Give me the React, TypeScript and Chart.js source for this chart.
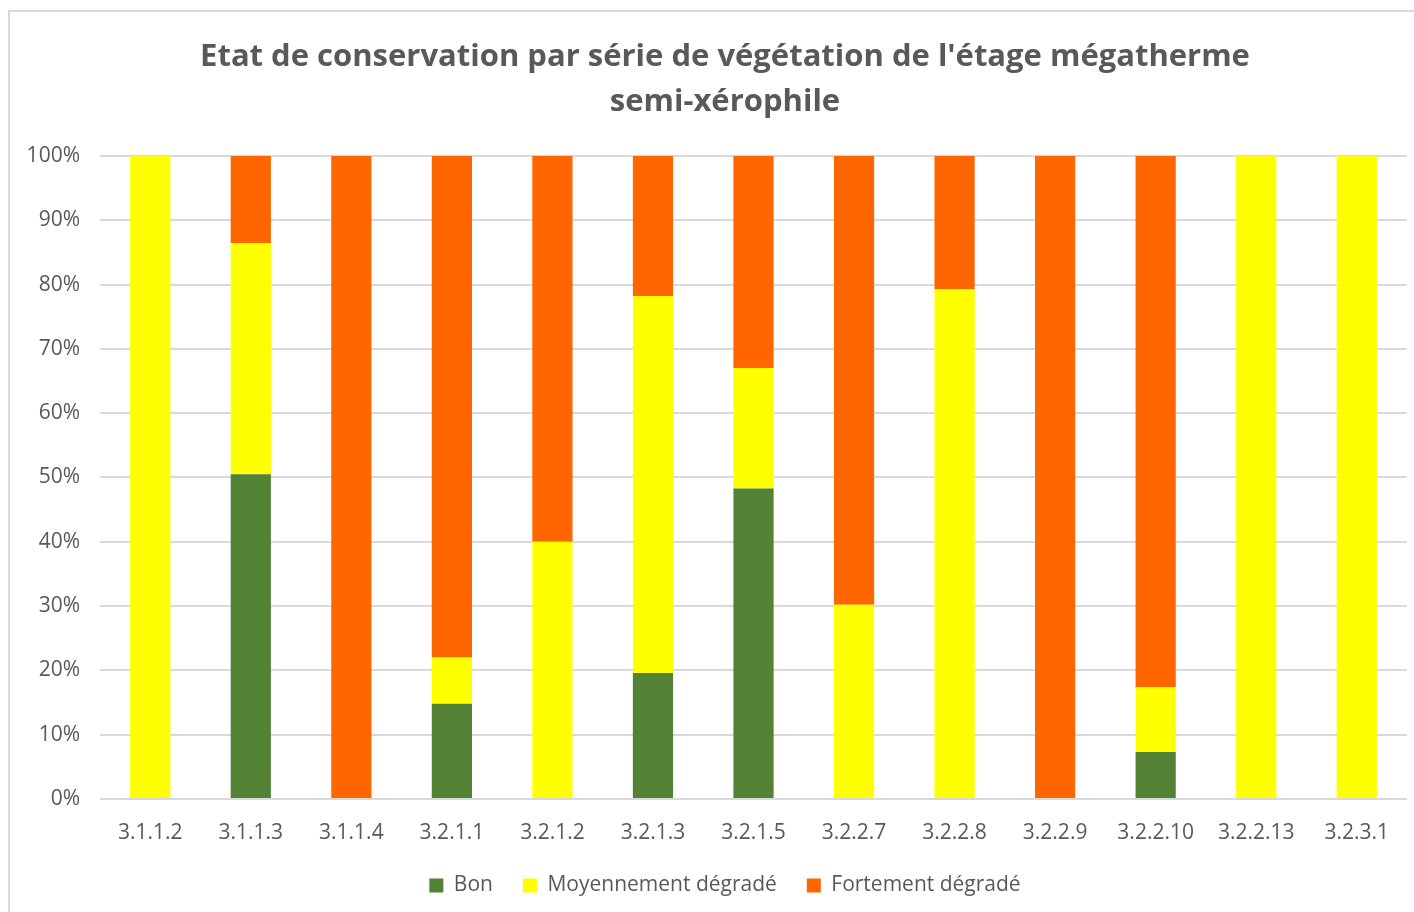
import React, { useEffect, useRef } from "react";
import { Chart, registerables } from "chart.js";

Chart.register(...registerables);

const categories = ["3.1.1.2", "3.1.1.3", "3.1.1.4", "3.2.1.1", "3.2.1.2", "3.2.1.3", "3.2.1.5", "3.2.2.7", "3.2.2.8", "3.2.2.9", "3.2.2.10", "3.2.2.13", "3.2.3.1"];
const bon = [0, 50.5, 0, 14.8, 0, 19.6, 48.3, 0, 0, 0, 7.3, 0, 0];
const moyen = [100, 35.9, 0, 7.2, 40.0, 58.6, 18.7, 30.2, 79.3, 0, 10.1, 100, 100];
const fort = [0, 13.6, 100, 78.0, 60.0, 21.8, 33.0, 69.8, 20.7, 100, 82.6, 0, 0];
const titleLines = ["Etat de conservation par série de végétation de l'étage mégatherme", "semi-xérophile"];
const seriesNames = ["Bon", "Moyennement dégradé", "Fortement dégradé"];

const FONT = "'Open Sans', 'Noto Sans', sans-serif";
const TEXT = "#595959";

export default function App() {
  const ref = useRef<HTMLCanvasElement | null>(null);
  useEffect(() => {
    if (!ref.current) return;
    const chart = new Chart(ref.current, {
      type: "bar",
      data: {
        labels: categories,
        datasets: [
          { label: seriesNames[0], data: bon, backgroundColor: "#548235" },
          { label: seriesNames[1], data: moyen, backgroundColor: "#FFFF00" },
          { label: seriesNames[2], data: fort, backgroundColor: "#FF6600" },
        ],
      },
      options: {
        responsive: false,
        animation: false,
        layout: { padding: { left: 43, right: 7, top: 0, bottom: 8 } },
        datasets: { bar: { barPercentage: 0.4, categoryPercentage: 1 } },
        plugins: {
          title: {
            display: true,
            text: titleLines,
            color: TEXT,
            font: { family: FONT, size: 31, weight: "bold", lineHeight: 1.45 },
            padding: { top: 35, bottom: 31 },
          },
          legend: {
            position: "bottom",
            labels: {
              color: TEXT,
              font: { family: FONT, size: 21 },
              boxWidth: 14,
              boxHeight: 14,
              padding: 30,
            },
          },
          tooltip: { enabled: false },
        },
        scales: {
          x: {
            stacked: true,
            grid: { display: false, drawTicks: false },
            border: { display: false },
            afterFit: (s: any) => {
              s.height = 46;
              s._computeLabelArea = () => undefined;
            },
            ticks: { color: TEXT, font: { family: FONT, size: 21 }, padding: 21, maxRotation: 0, autoSkip: false },
          },
          y: {
            stacked: true,
            min: 0,
            max: 100,
            grid: { color: "#d9d9d9", lineWidth: 2, drawTicks: false },
            border: { display: false },
            afterFit: (s: any) => {
              s.width = 57;
              s._computeLabelArea = () => undefined;
            },
            ticks: {
              stepSize: 10,
              color: TEXT,
              padding: 20,
              font: { family: FONT, size: 21 },
              callback: (v: any) => v + "%",
            },
          },
        },
      },
    });
    return () => chart.destroy();
  }, []);
  return (
    <div style={{ position: "fixed", left: 0, top: 0, width: 1414, height: 912, overflow: "hidden", background: "#fff" }}>
      <div style={{ position: "absolute", left: 8, top: 10, width: 1430, height: 930, border: "2px solid #d9d9d9" }} />
      <canvas ref={ref} width={1414} height={914} style={{ position: "absolute", left: 0, top: 0 }} />
    </div>
  );
}
